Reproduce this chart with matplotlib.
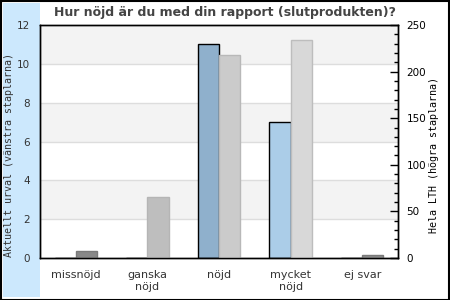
import numpy as np
import matplotlib
matplotlib.use('Agg')
import matplotlib.pyplot as plt
from matplotlib.patches import Rectangle
from matplotlib.ticker import MultipleLocator

categories = ['missnöjd', 'ganska\nnöjd', 'nöjd', 'mycket\nnöjd', 'ej svar']
urval = [0, 0, 11, 7, 0]          # vänster axel
lth = [7, 65, 218, 234, 3]        # höger axel
urval_colors = ['#6f8fae', '#7fa0bf', '#8fb0cc', '#abcde8', '#8fb0cc']
lth_colors = ['#888888', '#bebebe', '#cbcbcb', '#d8d8d8', '#8c8c8c']
lth_edges = ['#7a7a7a', '#b5b5b5', '#b8b8b8', '#bdbdbd', '#7a7a7a']

title = 'Hur nöjd är du med din rapport (slutprodukten)?'
ylabel_left = 'Aktuellt urval (vänstra staplarna)'
ylabel_right = 'Hela LTH (högra staplarna)'

fig = plt.figure(figsize=(4.5, 3), dpi=100)
W, H = 450, 300

# blå remsa till vänster + ram
fig.patches.append(Rectangle((3 / W, 3 / H), 37 / W, 294 / H, transform=fig.transFigure,
                             facecolor='#cce8fd', edgecolor='none', zorder=-5))
fig.patches.append(Rectangle((0.5 / W, 0.5 / H), 448.5 / W, 298.5 / H, transform=fig.transFigure,
                             facecolor='none', edgecolor='black', linewidth=1.5, zorder=10))

ax = fig.add_axes([40 / W, 42 / H, 358 / W, 233 / H])
ax.set_facecolor('white')
for lo in range(0, 12, 2):
    if (lo // 2) % 2 == 1:
        ax.axhspan(lo, lo + 2, color='#f3f3f3', zorder=0, lw=0)
for y in range(2, 12, 2):
    ax.axhline(y, color='#dddddd', lw=1, zorder=0.5)

x = np.arange(len(categories))
w = 0.295
ax.bar(x - w / 2, urval, width=w, color=urval_colors, edgecolor='black', linewidth=1, zorder=2)
ax.set_xlim(-0.5, len(categories) - 0.5)
ax.set_ylim(0, 12)
ax.set_yticks(range(0, 13, 2))
ax.tick_params(axis='y', length=0, pad=7, labelsize=7.5, colors='#333333')
ax.set_xticks(x)
ax.set_xticklabels(categories, fontsize=8, color='#333333', linespacing=1.15)
ax.tick_params(axis='x', length=0, pad=9)
for s in ax.spines.values():
    s.set_color('black')
    s.set_linewidth(1)

ax2 = ax.twinx()
ax2.bar(x + w / 2, lth, width=w, color=lth_colors, edgecolor=lth_edges, linewidth=1, zorder=2)
ax2.set_ylim(0, 250)
ax2.yaxis.set_major_locator(MultipleLocator(50))
ax2.yaxis.set_minor_locator(MultipleLocator(10))
ax2.tick_params(axis='y', which='major', direction='in', length=6, width=1, pad=6,
                labelsize=7.5, colors='black')
ax2.tick_params(axis='y', which='minor', direction='in', length=3, width=1)
for s in ax2.spines.values():
    s.set_color('black')
    s.set_linewidth(1)

fig.text(0.5, 1 - 12.5 / H, title, ha='center', va='center', fontsize=9,
         fontweight='bold', color='#444444')
fig.text(9.5 / W, 145 / H, ylabel_left, rotation=90, ha='center', va='center',
         family='DejaVu Sans Mono', fontsize=7.2, color='#333333')
fig.text(434 / W, 145 / H, ylabel_right, rotation=90, ha='center', va='center',
         family='DejaVu Sans Mono', fontsize=7.2, color='black')

fig.savefig('out.png', dpi=100)
